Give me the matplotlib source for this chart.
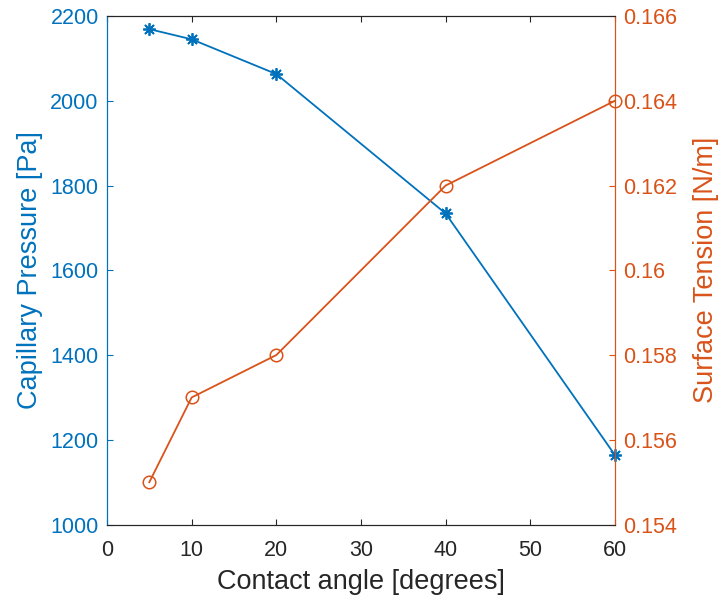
import matplotlib
matplotlib.use("Agg")
from matplotlib import pyplot as plt

angle = [5, 10, 20, 40, 60]
capillary_pressure = [2169, 2145, 2063, 1734, 1164]
surface_tension = [0.155, 0.157, 0.158, 0.162, 0.164]

blue = '#0072BD'
orange = '#D95319'
dark = '#262626'

plt.rcParams['font.family'] = ['Liberation Sans', 'DejaVu Sans']
plt.rcParams['xtick.direction'] = 'in'
plt.rcParams['ytick.direction'] = 'in'

fig = plt.figure(figsize=(7.2, 6.03), dpi=100)
ax = fig.add_axes([0.1486, 0.130, 0.7055, 0.8435])
ax2 = ax.twinx()

# asterisk markers (8 arms) for pressure, open circles for surface tension
ax.plot(angle, capillary_pressure, color=blue, lw=1.3, marker=(8, 2, 0), markersize=9,
        markeredgewidth=1.3, clip_on=False, zorder=3)
ax2.plot(angle, surface_tension, color=orange, lw=1.3, marker='o', markersize=9,
         markerfacecolor='none', markeredgewidth=1.1, clip_on=False, zorder=3)

ax.set_xlim(0, 60)
ax.set_ylim(1000, 2200)
ax2.set_ylim(0.154, 0.166)
ax.set_xticks(range(0, 61, 10))
ax.set_yticks(range(1000, 2201, 200))
ax2.set_yticks([0.154, 0.156, 0.158, 0.16, 0.162, 0.164, 0.166])
ax2.set_yticklabels(['0.154', '0.156', '0.158', '0.16', '0.162', '0.164', '0.166'])

ax.set_xlabel('Contact angle [degrees]', fontsize=19.5, color=dark, labelpad=6)
ax.set_ylabel('Capillary Pressure [Pa]', fontsize=19.5, color=blue, labelpad=5)
ax2.set_ylabel('Surface Tension [N/m]', fontsize=19.5, color=orange, labelpad=11)

ax.tick_params(axis='x', colors=dark, labelsize=15.5, length=4, width=0.8, pad=11, top=True)
ax.tick_params(axis='y', colors=blue, labelsize=15.5, length=4, width=0.8, pad=6, right=False)
ax2.tick_params(axis='y', colors=orange, labelsize=15.5, length=4, width=0.8, pad=6)

for a in (ax, ax2):
    a.spines['top'].set_color(dark)
    a.spines['bottom'].set_color(dark)
    a.spines['left'].set_color(blue)
    a.spines['right'].set_color(orange)
    for s in a.spines.values():
        s.set_linewidth(0.8)

fig.savefig('out.png', dpi=100)
